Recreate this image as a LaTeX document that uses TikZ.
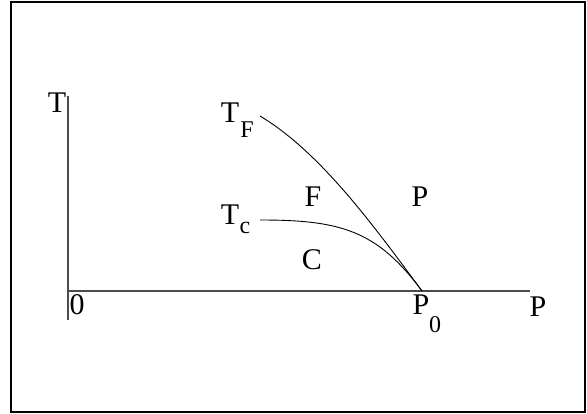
\documentclass[tikz,border=0pt]{standalone}
\usepackage{fontspec}
\setmainfont{Liberation Serif}
\begin{document}
\begin{tikzpicture}[x=1pt,y=-1pt,
  lab/.style={inner sep=0pt,anchor=base,font=\fontsize{30}{30}\selectfont},
  sublab/.style={inner sep=0pt,anchor=base,font=\fontsize{24}{24}\selectfont},
  axis/.style={draw=black!70,line width=1.2pt},
  curve/.style={draw=black,line width=0.9pt}]
\useasboundingbox (0,0) rectangle (587,414);
\draw[line width=1.6pt] (11,2) rectangle (585,412);
% axes
\coordinate (ytop) at (68,96);
\coordinate (ybot) at (68,320);
\coordinate (xl) at (68,291);
\coordinate (xr) at (530,291);
\coordinate (p0) at (422,291);
\coordinate (tf) at (260,116);
\coordinate (tc) at (260,220);
\draw[axis] (ytop) -- (ybot);
\draw[axis] (xl) -- (xr);
% curves
\draw[curve] (tf) .. controls (320,152) and (372,223.5) .. (p0);
\draw[curve] (tc) .. controls (340,220) and (377,230) .. (p0);
% labels
\node[lab] (Tax) at (57,113) {T};
\node[lab] (zero) at (77,315) {0};
\node[lab] (Pax) at (538,317) {P};
\node[lab] (P0) at (421,315) {P};
\node[sublab] (P0s) at (435,333) {0};
\node[lab] (TF) at (230,123) {T};
\node[sublab] (TFs) at (247,138) {F};
\node[lab] (Tc) at (230,225) {T};
\node[sublab] (Tcs) at (245,234) {c};
\node[lab] (Freg) at (313,207) {F};
\node[lab] (Preg) at (420,207) {P};
\node[lab] (Creg) at (312,270) {C};
\end{tikzpicture}
\end{document}
